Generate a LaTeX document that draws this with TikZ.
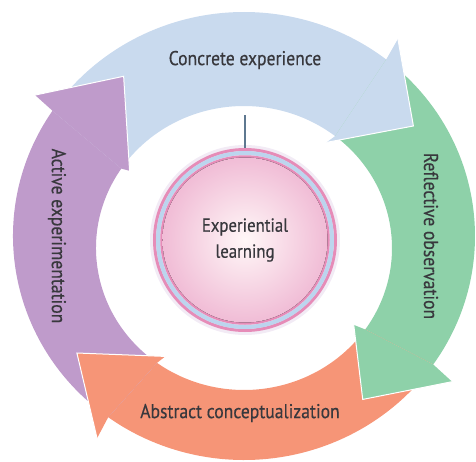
\documentclass[tikz,border=0pt]{standalone}
\usepackage{fontspec}
\setmainfont{PT Sans}[FakeStretch=0.88, FakeBold=0.4]

\definecolor{cycblue}{HTML}{C9DAEE}
\definecolor{cycgreen}{HTML}{8ED1A9}
\definecolor{cycorange}{HTML}{F69577}
\definecolor{cycpurple}{HTML}{BF9BCB}
\definecolor{ringpink}{HTML}{E68CB8}
\definecolor{ringblue}{HTML}{BCD5EE}
\definecolor{inkgray}{HTML}{38383D}
\definecolor{slate}{HTML}{5E7890}

\begin{document}
\begin{tikzpicture}[x=1pt, y=1pt,
    stage/.style={text=inkgray, font=\fontsize{20}{22}\selectfont},
    front/.style={draw=white, line width=1pt}]
    \useasboundingbox (-244,-225) rectangle (232,236);
    % Arrow bodies (outer rim 231x224, inner rim 148x142 set 12 lower)
    \fill[cycblue] (146:231pt and 224pt) arc[start angle=146, end angle=52, x radius=231pt, y radius=224pt]
        -- ([yshift=-12pt]52:148pt and 142pt) arc[start angle=52, end angle=146, x radius=148pt, y radius=142pt] -- cycle;
    \fill[cycgreen] (52:231pt and 224pt) arc[start angle=52, end angle=-35, x radius=231pt, y radius=224pt]
        -- ([yshift=-12pt]-35:148pt and 142pt) arc[start angle=-35, end angle=52, x radius=148pt, y radius=142pt] -- cycle;
    \fill[cycorange] (-35:231pt and 224pt) arc[start angle=-35, end angle=-126, x radius=231pt, y radius=224pt]
        -- ([yshift=-12pt]-126:148pt and 142pt) arc[start angle=-126, end angle=-35, x radius=148pt, y radius=142pt] -- cycle;
    \fill[cycpurple] (234:231pt and 224pt) arc[start angle=234, end angle=146, x radius=231pt, y radius=224pt]
        -- ([yshift=-12pt]146:148pt and 142pt) arc[start angle=146, end angle=234, x radius=148pt, y radius=142pt] -- cycle;
    % Arrow heads, white edge along the front
    \fill[cycblue] (52:231pt and 224pt) -- (52:250) -- (33:202) -- ([yshift=-12pt]52:134)
        -- ([yshift=-12pt]52:148pt and 142pt) -- cycle;
    \draw[front] (52:250) -- (33:202) -- ([yshift=-12pt]52:134);
    \fill[cycgreen] (-35:231pt and 224pt) -- (-35:254) -- (-54:202) -- ([yshift=-12pt]-35:134)
        -- ([yshift=-12pt]-35:148pt and 142pt) -- cycle;
    \draw[front] (-35:254) -- (-54:202) -- ([yshift=-12pt]-35:134);
    \fill[cycorange] (234:231pt and 224pt) -- (234:250) -- (215:204) -- ([yshift=-12pt]234:134)
        -- ([yshift=-12pt]234:148pt and 142pt) -- cycle;
    \draw[front] (234:250) -- (215:204) -- ([yshift=-12pt]234:134);
    \fill[cycpurple] (146:231pt and 224pt) -- (146:252) -- (127:200) -- ([yshift=-12pt]146:138)
        -- ([yshift=-12pt]146:148pt and 142pt) -- cycle;
    \draw[front] (146:252) -- (127:200) -- ([yshift=-12pt]146:138);
    % Stage labels
    \node[stage] (ce) at (1,176) {Concrete experience};
    \node[stage, rotate=-90] (ro) at (187,0) {Reflective observation};
    \node[stage] (ac) at (-4,-177) {Abstract conceptualization};
    \node[stage, rotate=-90] (ae) at (-187,0) {Active experimentation};
    % Centre disc with its rings
    \coordinate (mid) at (1,-4);
    \fill[cycpurple!20] (mid) circle (95pt);
    \draw[ringpink, line width=3pt] (mid) circle (90.5pt);
    \draw[ringblue, line width=4pt] (mid) circle (87pt);
    \draw[ringpink, line width=2.5pt] (mid) circle (83.5pt);
    \fill[inner color=pink!12, outer color=ringpink!58] (mid) circle (82.5pt);
    \node[circle, minimum size=184pt, outer sep=0pt, align=center, text=inkgray,
        font=\fontsize{19}{26}\selectfont] (hub) at (mid) {Experiential\\learning};
    \coordinate (tick) at (1,121);
    \draw[slate, line width=1.5pt] (tick) -- (hub.north);
\end{tikzpicture}
\end{document}
